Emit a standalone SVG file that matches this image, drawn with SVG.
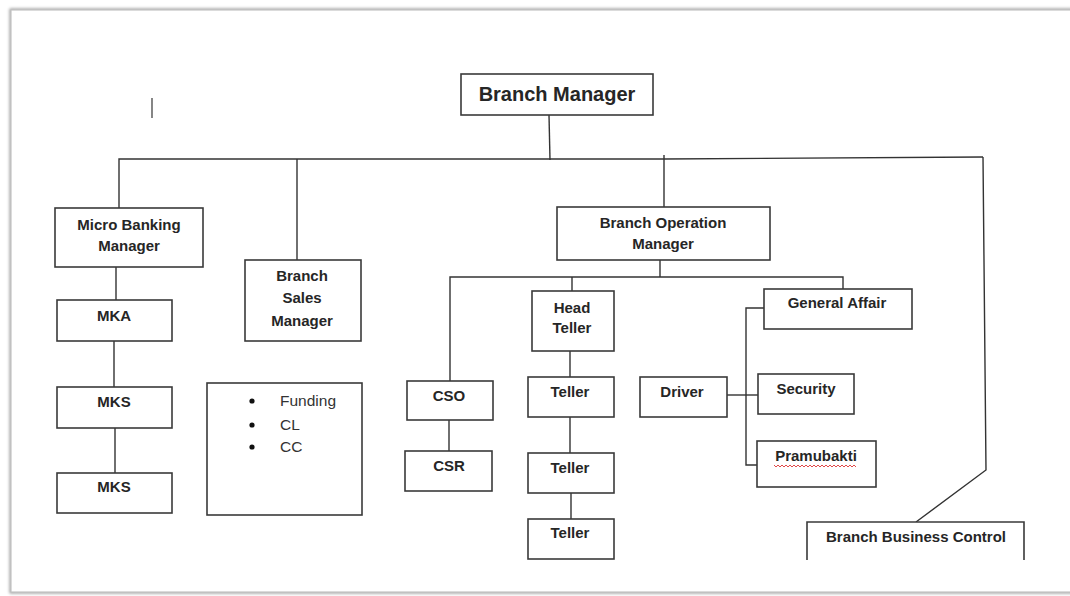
<svg xmlns="http://www.w3.org/2000/svg" width="1070" height="596" viewBox="0 0 1070 596">
<style>
.box{fill:#fff;stroke:#3a3a3a;stroke-width:1.6}
.ln{fill:none;stroke:#333;stroke-width:1.4}
.t{font-family:"Liberation Sans",Arial,sans-serif;font-weight:bold;font-size:15px;fill:#262626;text-anchor:middle}
.r{font-family:"Liberation Sans",Arial,sans-serif;font-size:15.5px;fill:#333}
</style>
<defs>
<filter id="sh" x="-2%" y="-2%" width="104%" height="104%"><feGaussianBlur stdDeviation="1.5"/></filter>
</defs>
<rect x="0" y="0" width="1070" height="596" fill="#fff"/>
<rect x="11" y="10" width="1062" height="582" fill="none" stroke="#9a9a9a" stroke-width="3" filter="url(#sh)"/>
<rect x="11" y="10" width="1062" height="582" fill="#fff" stroke="#c4c4c4" stroke-width="1.2"/>
<line x1="152" y1="98" x2="152" y2="118" stroke="#444" stroke-width="1.3"/>
<g id="connectors">
<path class="ln" d="M549 115 L550 160"/>
<path class="ln" d="M119 208 V159 H664 L983 157"/>
<path class="ln" d="M297 159 V260"/>
<path class="ln" d="M664 155 V207"/>
<path class="ln" d="M983 157 L986 470 L916 522"/>
<path class="ln" d="M116 267 V300"/>
<path class="ln" d="M114 341 V387"/>
<path class="ln" d="M115 428 V473"/>
<path class="ln" d="M660 260 V277"/>
<path class="ln" d="M450 381 V277 H843 V289"/>
<path class="ln" d="M572 277 V291"/>
<path class="ln" d="M449 420 V451"/>
<path class="ln" d="M570 351 V377"/>
<path class="ln" d="M570 417 V453"/>
<path class="ln" d="M571 493 V519"/>
<path class="ln" d="M764 308 H746 V465 H757"/>
<path class="ln" d="M727 395 H758"/>
</g>
<g id="branch-manager"><rect class="box" x="461" y="74" width="192" height="41"/><text class="t" x="557" y="101" style="font-size:20px">Branch Manager</text></g>
<g id="micro-banking-manager"><rect class="box" x="55" y="208" width="148" height="59"/><text class="t" x="129" y="230">Micro Banking</text><text class="t" x="129" y="251">Manager</text></g>
<g id="mka"><rect class="box" x="57" y="300" width="115" height="41"/><text class="t" x="114" y="321">MKA</text></g>
<g id="mks1"><rect class="box" x="57" y="387" width="115" height="41"/><text class="t" x="114" y="407">MKS</text></g>
<g id="mks2"><rect class="box" x="57" y="473" width="115" height="40"/><text class="t" x="114" y="492">MKS</text></g>
<g id="branch-sales-manager"><rect class="box" x="245" y="260" width="116" height="81"/><text class="t" x="302" y="281">Branch</text><text class="t" x="302" y="303">Sales</text><text class="t" x="302" y="326">Manager</text></g>
<g id="sales-list"><rect class="box" x="207" y="383" width="155" height="132"/>
<circle cx="252" cy="401" r="2.6" fill="#111"/><circle cx="252" cy="425" r="2.6" fill="#111"/><circle cx="252" cy="447" r="2.6" fill="#111"/>
<text class="r" x="280" y="406">Funding</text><text class="r" x="280" y="430">CL</text><text class="r" x="280" y="452">CC</text></g>
<g id="branch-operation-manager"><rect class="box" x="557" y="207" width="213" height="53"/><text class="t" x="663" y="228">Branch Operation</text><text class="t" x="663" y="249">Manager</text></g>
<g id="cso"><rect class="box" x="407" y="381" width="86" height="39"/><text class="t" x="449" y="401">CSO</text></g>
<g id="csr"><rect class="box" x="405" y="451" width="87" height="40"/><text class="t" x="449" y="471">CSR</text></g>
<g id="head-teller"><rect class="box" x="532" y="291" width="82" height="60"/><text class="t" x="572" y="313">Head</text><text class="t" x="572" y="333">Teller</text></g>
<g id="teller1"><rect class="box" x="528" y="377" width="86" height="40"/><text class="t" x="570" y="397">Teller</text></g>
<g id="teller2"><rect class="box" x="528" y="453" width="86" height="40"/><text class="t" x="570" y="473">Teller</text></g>
<g id="teller3"><rect class="box" x="528" y="519" width="86" height="40"/><text class="t" x="570" y="538">Teller</text></g>
<g id="general-affair"><rect class="box" x="764" y="289" width="148" height="40"/><text class="t" x="837" y="308">General Affair</text></g>
<g id="driver"><rect class="box" x="640" y="377" width="87" height="40"/><text class="t" x="682" y="397">Driver</text></g>
<g id="security"><rect class="box" x="758" y="374" width="96" height="40"/><text class="t" x="806" y="394">Security</text></g>
<g id="pramubakti"><rect class="box" x="757" y="441" width="119" height="46"/><text class="t" x="816" y="461">Pramubakti</text>
<path d="M774 465 l2 2 2 -2 2 2 2 -2 2 2 2 -2 2 2 2 -2 2 2 2 -2 2 2 2 -2 2 2 2 -2 2 2 2 -2 2 2 2 -2 2 2 2 -2 2 2 2 -2 2 2 2 -2 2 2 2 -2 2 2 2 -2 2 2 2 -2 2 2 2 -2 2 2 2 -2 2 2 2 -2 2 2 2 -2 2 2 2 -2 2 2" fill="none" stroke="#d33" stroke-width="0.9"/></g>
<g id="branch-business-control"><path class="box" d="M807 560 V522 H1024 V560" style="fill:#fff"/><text class="t" x="916" y="542">Branch Business Control</text></g>
</svg>
